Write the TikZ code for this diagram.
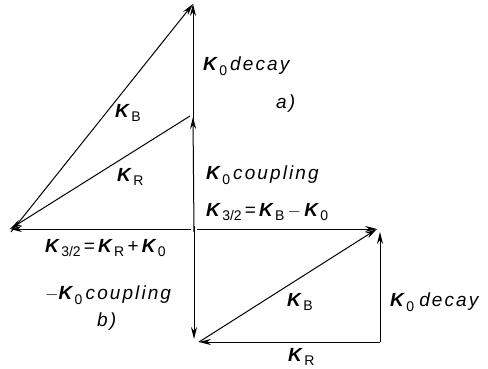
\documentclass[tikz,border=0pt]{standalone}
\usepackage{fontspec}
\setmainfont{Liberation Sans}
\newfontfamily\widefont[LetterSpace=11]{Liberation Sans}
\usetikzlibrary{arrows.meta}
\newcommand\Kv[1]{\textbf{\textit{K}}\kern1.2pt\raisebox{-0.45ex}{\fontsize{14}{14}\selectfont #1}}
\newcommand\wword[1]{{\widefont\itshape #1}}
\begin{document}
\begin{tikzpicture}[x=1pt,y=-1pt,
  vec/.style={line width=1pt,-{Stealth[length=12pt,width=6pt]}},
  lbl/.style={anchor=west,inner sep=0pt,font=\fontsize{19}{21}\selectfont}]
\useasboundingbox (0,0) rectangle (488,369);
\coordinate (O) at (194,229);
\coordinate (L) at (10,229);
\coordinate (M) at (193,117);
\coordinate (T) at (193,4);
\coordinate (R) at (377,229);
\coordinate (D) at (194,339);
\coordinate (B) at (199,342);
\coordinate (C) at (380,342);
\coordinate (E) at (380,232);
% a)
\draw[vec] ([xshift=-3pt]O) -- (L);
\draw[vec] ([yshift=-3pt]O) -- (M);
\draw[vec] ([yshift=-5pt]M) -- (T);
\draw[vec] ([xshift=-3pt,yshift=1pt]M) -- (L);
\draw[vec] ([xshift=1pt,yshift=-3pt]L) -- (T);
% b)
\draw[vec] ([xshift=3pt]O) -- (R);
\draw[vec] ([yshift=3pt]O) -- (D);
\draw[vec] (C) -- (B);
\draw[vec] (B) -- (R);
\draw[vec] (C) -- (E);
% labels
\node[lbl] (t1) at (203,66) {\Kv{0}\,\wword{decay}};
\node[lbl] (t2) at (276,104) {\wword{a)}};
\node[lbl] (t3) at (115,113) {\Kv{B}};
\node[lbl] (t4) at (117,177) {\Kv{R}};
\node[lbl] (t5) at (206,175) {\Kv{0}\,\wword{coupling}};
\node[lbl] (t6) at (206,212) {\Kv{3/2}\,=\,\Kv{B}\,$-$\,\Kv{0}};
\node[lbl] (t7) at (45,248) {\Kv{3/2}\,=\,\Kv{R}\,+\,\Kv{0}};
\node[lbl] (t8) at (45,295) {$-$\Kv{0}\,\wword{coupling}};
\node[lbl] (t9) at (97,322) {\wword{b)}};
\node[lbl] (t10) at (287,302) {\Kv{B}};
\node[lbl] (t11) at (390,302) {\Kv{0}\;\wword{decay}};
\node[lbl] (t12) at (288,357) {\Kv{R}};
\end{tikzpicture}
\end{document}
